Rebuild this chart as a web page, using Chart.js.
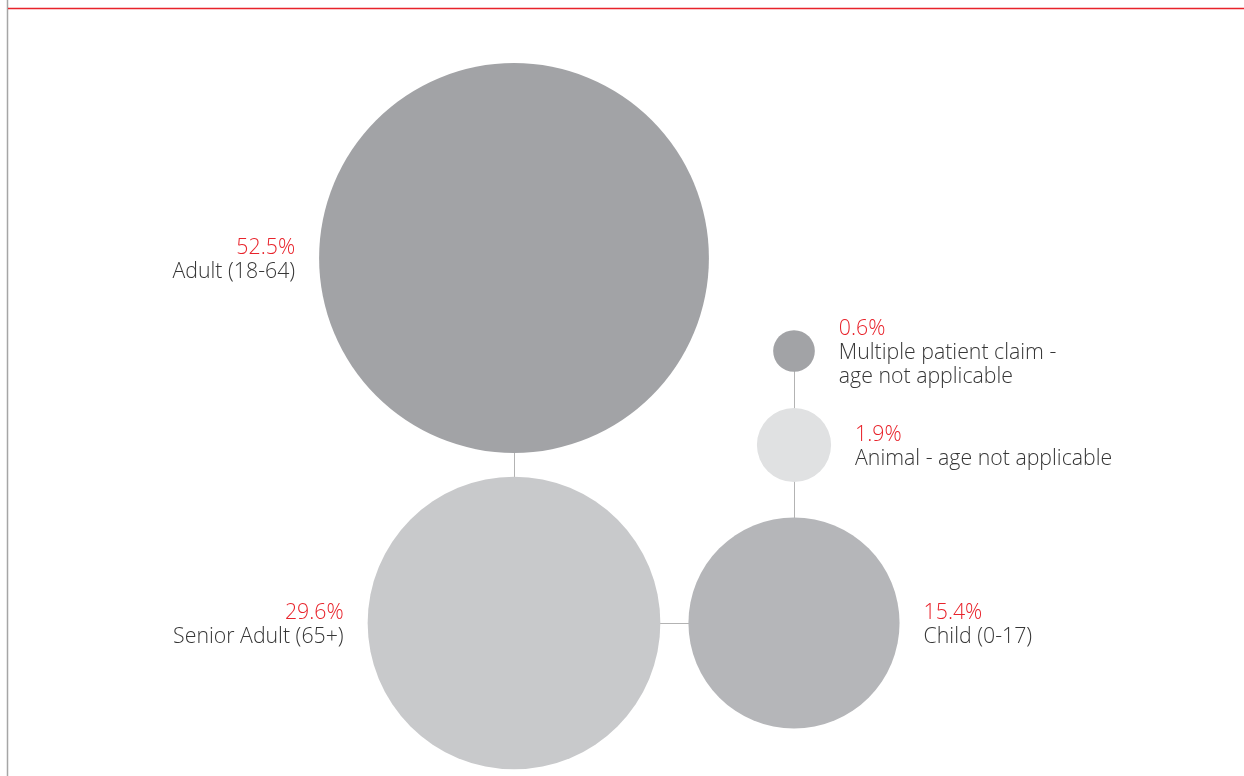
<!DOCTYPE html>
<html lang="en">
  <head>
    <meta charset="UTF-8" />
    <title>Claims by patient age</title>
    <script src="https://cdn.jsdelivr.net/npm/chart.js"></script>
    <style>
      body {
        margin: 0;
        background: #ffffff;
      }
      #chart-container {
        width: 1244px;
        height: 776px;
      }
    </style>
  </head>
  <body>
    <div id="chart-container">
      <canvas id="myChart" width="1244" height="776"></canvas>
    </div>

    <script>
      // data
      const categories = [
        ["Adult (18-64)"],
        ["Senior Adult (65+)"],
        ["Child (0-17)"],
        ["Animal - age not applicable"],
        ["Multiple patient claim -", "age not applicable"],
      ];
      const shares = [52.5, 29.6, 15.4, 1.9, 0.6];
      // layout position of each bubble (scale units)
      const posX = [51.4, 51.4, 79.4, 79.4, 79.4];
      const posY = [25.8, 62.3, 62.3, 44.5, 35.1];
      const labelSide = ["left", "left", "right", "right", "right"];
      const bubbleColors = ["#a2a3a6", "#c8c9cb", "#b5b6b9", "#e0e1e2", "#a2a3a6"];
      // which bubbles are joined by a thin line
      const links = [
        [0, 1],
        [1, 2],
        [2, 3],
        [3, 4],
      ];

      const RADIUS_K = 26.9; // px per sqrt(percent), area proportional
      const FONT = "300 21.3px 'Open Sans'";
      const LINE_H = 24;

      const framePlugin = {
        id: "frame",
        beforeDraw(chart) {
          const ctx = chart.ctx;
          ctx.save();
          ctx.lineWidth = 1.5;
          ctx.strokeStyle = "#a6a6a6";
          ctx.beginPath();
          ctx.moveTo(7.5, 0);
          ctx.lineTo(7.5, chart.height);
          ctx.stroke();
          ctx.strokeStyle = "#e8232b";
          ctx.beginPath();
          ctx.moveTo(8, 8.5);
          ctx.lineTo(chart.width, 8.5);
          ctx.stroke();
          ctx.restore();
        },
      };

      const linksPlugin = {
        id: "links",
        beforeDatasetsDraw(chart) {
          const pts = chart.getDatasetMeta(0).data;
          const ctx = chart.ctx;
          ctx.save();
          ctx.strokeStyle = "#b3b3b3";
          ctx.lineWidth = 1;
          links.forEach(([a, b]) => {
            ctx.beginPath();
            ctx.moveTo(Math.round(pts[a].x) + 0.5, Math.round(pts[a].y) + 0.5);
            ctx.lineTo(Math.round(pts[b].x) + 0.5, Math.round(pts[b].y) + 0.5);
            ctx.stroke();
          });
          ctx.restore();
        },
      };

      const labelsPlugin = {
        id: "bubbleLabels",
        afterDatasetsDraw(chart) {
          const pts = chart.getDatasetMeta(0).data;
          const ctx = chart.ctx;
          ctx.save();
          ctx.font = FONT;
          ctx.textBaseline = "middle";
          pts.forEach((pt, i) => {
            const r = RADIUS_K * Math.sqrt(shares[i]);
            const lines = [shares[i].toFixed(1) + "%"].concat(categories[i]);
            const left = labelSide[i] === "left";
            const x = left ? pt.x - r - 24 : pt.x + r + 24;
            ctx.textAlign = left ? "right" : "left";
            let y = pt.y - ((lines.length - 1) * LINE_H) / 2 + 2;
            lines.forEach((txt, j) => {
              ctx.fillStyle = j === 0 ? "#e8232b" : "#363636";
              ctx.fillText(txt, x, y);
              y += LINE_H;
            });
          });
          ctx.restore();
        },
      };

      const ctx = document.getElementById("myChart").getContext("2d");
      const myChart = new Chart(ctx, {
        type: "bubble",
        data: {
          datasets: [
            {
              data: shares.map((v, i) => ({ x: posX[i], y: posY[i], v })),
              backgroundColor: bubbleColors,
              borderWidth: 0,
              radius: (c) => RADIUS_K * Math.sqrt(shares[c.dataIndex]),
              hoverRadius: 0,
              clip: false,
            },
          ],
        },
        options: {
          responsive: false,
          animation: false,
          devicePixelRatio: 1,
          layout: { padding: 0, autoPadding: false },
          plugins: {
            legend: { display: false },
            tooltip: { enabled: false },
          },
          scales: {
            x: { display: false, min: 0, max: 124.4 },
            y: { display: false, min: 0, max: 77.6, reverse: true },
          },
        },
        plugins: [framePlugin, linksPlugin, labelsPlugin],
      });
    </script>
  </body>
</html>
